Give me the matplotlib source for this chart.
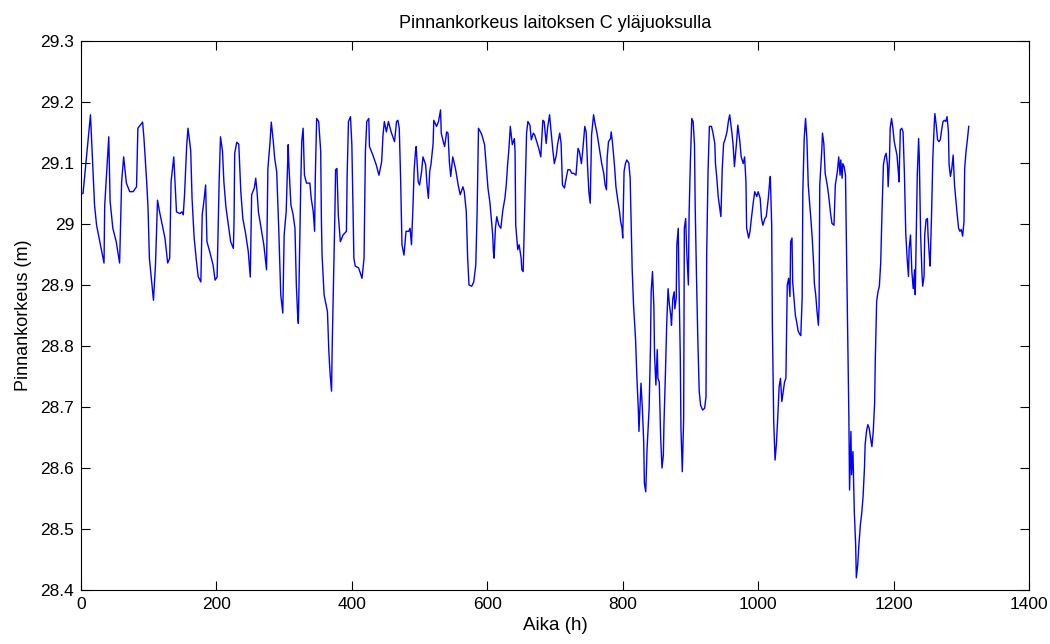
import matplotlib
matplotlib.use("Agg")
import matplotlib.pyplot as plt

time_h = [0, 3, 14, 20, 23, 34, 35, 41, 43, 47, 52, 57, 60, 63, 67, 72, 77, 82, 84, 91, 93, 97, 99, 101, 107, 110, 113, 116, 124, 128, 131, 133, 137, 141, 146, 149, 151, 153, 156, 158,
          162, 164, 167, 170, 173, 177, 179, 182, 184, 186, 190, 195, 198, 201, 204, 206, 209, 211, 214, 217, 221, 225, 226, 227, 230, 233, 236, 239, 243, 247, 250, 252, 256, 258, 260, 262, 266, 270, 274, 276, 279, 281, 284, 286, 289, 292, 295, 298, 300, 303, 306, 307, 310, 313, 316, 318, 320, 321, 323, 324.5, 326, 328,
          330, 333, 338, 340, 343, 345, 346, 348, 351, 354, 355, 356, 359, 364, 366, 368, 370, 371, 373, 375, 376, 378, 380, 383, 387, 392, 393, 395, 398, 400, 403, 405, 410, 415, 418, 420, 422, 425, 426, 431, 436, 440, 444, 446, 448, 451, 454, 458, 463, 466, 468, 470, 472, 474, 477, 480, 484, 486, 488,
          490, 492, 494, 495, 498, 500, 503, 505, 509, 511, 513, 515, 517, 520, 521, 525, 528, 531, 532, 535, 537, 540, 542, 544, 546, 549, 553, 557, 560, 564, 566, 569, 571, 573, 577, 580, 583, 585, 587, 590, 592, 596, 599, 601, 604, 606, 608, 609, 610, 612, 614, 617, 620, 623, 626, 628, 630, 632, 634, 637, 640, 641, 642, 645, 647, 650, 651, 653,
          654, 656, 658, 660, 663, 665, 668, 670, 673, 676, 679, 682, 684, 687, 689, 692, 694, 697, 699, 702, 704, 707, 709, 711, 714, 716, 719, 722, 725, 728, 731, 734, 736, 739, 741, 744, 746, 748, 750, 752, 754, 757, 759, 762, 764, 767, 769, 772, 774, 776, 777, 779, 782, 783, 785, 788, 790, 793, 795, 797, 799, 800, 802, 804, 806, 809, 811,
          813, 814, 816, 819, 821, 823, 824, 826, 827, 829, 831, 832, 834, 836, 839, 841, 842, 844, 846, 847, 849, 851, 852, 854, 856, 858, 860, 861, 863, 865, 867, 869, 871, 872, 874, 876, 877, 879, 880, 882, 883, 885, 886, 888, 890, 891, 893, 894, 895, 897, 898, 900, 902, 904, 906, 907, 909, 911, 913, 915, 918, 921, 923, 924, 926, 928, 931, 933, 936, 937, 939, 941, 943, 945, 947, 949, 951, 954, 956, 958,
          961, 963, 965, 968, 970, 973, 975, 978, 980, 982, 983, 986, 988, 990, 993, 995, 998, 1000, 1003, 1005, 1007, 1010, 1012, 1015, 1017, 1018, 1020, 1021, 1023, 1025, 1027, 1029, 1031, 1033, 1035, 1037, 1039, 1041, 1042, 1043, 1045, 1047, 1048, 1050, 1051, 1053, 1055, 1057, 1059, 1061, 1063, 1065, 1066, 1068, 1070, 1072, 1074, 1076, 1078, 1080, 1082, 1083, 1085, 1087, 1089, 1090, 1091, 1094, 1095, 1097, 1099, 1102, 1104, 1107, 1109, 1112, 1114, 1117, 1119, 1121, 1122, 1124, 1125, 1127, 1129,
          1130, 1132, 1134, 1135, 1137, 1138, 1140, 1142, 1144, 1145, 1147, 1149, 1151, 1153, 1155, 1157, 1158, 1160, 1162, 1164, 1166, 1168, 1170, 1172, 1173, 1175, 1177, 1179, 1181, 1183, 1185, 1187, 1189, 1191, 1192, 1194, 1195, 1197, 1199, 1201, 1203, 1205, 1207, 1208, 1210, 1212, 1214, 1216, 1218, 1220, 1222, 1223, 1225, 1227, 1229, 1231, 1232, 1234, 1235, 1237, 1238, 1240, 1242, 1243, 1245, 1246, 1248, 1250, 1251, 1253, 1254, 1256, 1258, 1260, 1261, 1263, 1265, 1267, 1269, 1271, 1273, 1275, 1277, 1279, 1281, 1282, 1284, 1286, 1288, 1290, 1292, 1294, 1296, 1298, 1300, 1302, 1304, 1305, 1307, 1309, 1311]

level_m = [29.050, 29.050, 29.179, 29.031, 28.998, 28.936, 29.030, 29.143, 29.037, 28.993, 28.971, 28.936, 29.069, 29.110, 29.067, 29.053, 29.053, 29.061, 29.157, 29.167, 29.140, 29.069, 29.026, 28.944, 28.875, 28.933, 29.039, 29.020, 28.977, 28.936, 28.944, 29.069, 29.110, 29.020, 29.017, 29.020, 29.015, 29.050, 29.127, 29.157,
           29.121, 29.042, 28.979, 28.944, 28.914, 28.905, 29.015, 29.042, 29.064, 28.971, 28.955, 28.933, 28.908, 28.913, 29.069, 29.143, 29.119, 29.069, 29.028, 29.004, 28.971, 28.960, 29.004, 29.116, 29.134, 29.131, 29.053, 29.009, 28.985, 28.955, 28.913, 29.048, 29.059, 29.075, 29.053, 29.020, 28.993, 28.966, 28.925, 29.091, 29.132, 29.167, 29.135, 29.108, 29.086, 28.993, 28.884, 28.854, 28.982, 29.020, 29.130, 29.097, 29.031, 29.017, 28.993, 28.900, 28.850, 28.837, 28.966, 29.064, 29.135, 29.157,
           29.080, 29.067, 29.067, 29.042, 29.020, 28.988, 29.075, 29.173, 29.168, 29.119, 29.009, 28.949, 28.884, 28.856, 28.791, 28.752, 28.726, 28.802, 28.913, 29.020, 29.089, 29.091, 29.015, 28.971, 28.982, 28.988, 29.078, 29.168, 29.176, 29.130, 28.944, 28.931, 28.928, 28.911, 28.944, 29.119, 29.168, 29.173, 29.127, 29.113, 29.097, 29.080, 29.102, 29.146, 29.168, 29.151, 29.168, 29.151, 29.135, 29.168, 29.170, 29.157, 29.075, 28.966, 28.949, 28.988, 28.988, 28.993, 28.966,
           29.020, 29.089, 29.119, 29.127, 29.069, 29.064, 29.086, 29.110, 29.097, 29.064, 29.042, 29.086, 29.099, 29.132, 29.170, 29.160, 29.168, 29.187, 29.149, 29.135, 29.127, 29.151, 29.149, 29.102, 29.078, 29.110, 29.091, 29.064, 29.048, 29.061, 29.053, 29.020, 28.944, 28.900, 28.898, 28.905, 28.933, 29.020, 29.157, 29.151, 29.146, 29.130, 29.086, 29.059, 29.034, 29.009, 28.982, 28.955, 28.944, 28.993, 29.012, 28.998, 28.993, 29.023, 29.042, 29.064, 29.097, 29.124, 29.160, 29.130, 29.140, 29.119, 28.998, 28.958, 28.966, 28.944, 28.925, 28.922,
           28.966, 29.050, 29.149, 29.168, 29.162, 29.138, 29.149, 29.146, 29.135, 29.124, 29.110, 29.170, 29.168, 29.132, 29.157, 29.179, 29.154, 29.119, 29.099, 29.113, 29.132, 29.149, 29.132, 29.064, 29.059, 29.072, 29.089, 29.089, 29.083, 29.083, 29.080, 29.124, 29.119, 29.099, 29.121, 29.160, 29.151, 29.097, 29.053, 29.034, 29.146, 29.179, 29.165, 29.149, 29.135, 29.113, 29.099, 29.083, 29.064, 29.056, 29.108, 29.135, 29.140, 29.151, 29.132, 29.094, 29.061, 29.037, 29.023, 29.004, 28.993, 28.977, 29.086, 29.099, 29.105, 29.100, 29.075,
           28.977, 28.925, 28.867, 28.810, 28.747, 28.698, 28.660, 28.714, 28.739, 28.698, 28.643, 28.575, 28.561, 28.632, 28.698, 28.799, 28.889, 28.922, 28.865, 28.785, 28.736, 28.794, 28.747, 28.741, 28.651, 28.600, 28.621, 28.676, 28.752, 28.837, 28.894, 28.867, 28.850, 28.834, 28.878, 28.889, 28.861, 28.878, 28.966, 28.993, 28.911, 28.785, 28.665, 28.594, 28.681, 28.993, 29.009, 28.971, 28.944, 28.900, 29.015, 29.105, 29.173, 29.168, 29.130, 29.031, 28.911, 28.807, 28.725, 28.703, 28.695, 28.698, 28.717, 28.949, 29.086, 29.160, 29.160, 29.151, 29.132, 29.099, 29.075, 29.045, 29.028, 29.012, 29.091, 29.132, 29.138, 29.151, 29.168, 29.179,
           29.152, 29.130, 29.094, 29.132, 29.162, 29.135, 29.110, 29.099, 29.110, 29.069, 28.993, 28.977, 28.988, 29.009, 29.037, 29.053, 29.045, 29.053, 29.042, 29.009, 28.998, 29.009, 29.012, 29.042, 29.069, 29.078, 28.998, 28.836, 28.676, 28.613, 28.640, 28.684, 28.733, 28.747, 28.709, 28.725, 28.741, 28.747, 28.828, 28.900, 28.911, 28.881, 28.971, 28.977, 28.905, 28.878, 28.850, 28.839, 28.825, 28.820, 28.817, 28.878, 29.053, 29.140, 29.173, 29.140, 29.064, 29.034, 29.007, 28.974, 28.933, 28.903, 28.884, 28.856, 28.834, 28.867, 29.064, 29.121, 29.149, 29.132, 29.083, 29.064, 29.048, 29.017, 29.001, 28.998, 29.064, 29.086, 29.110, 29.080, 29.105, 29.075, 29.099, 29.094, 29.080,
           28.996, 28.843, 28.682, 28.564, 28.660, 28.589, 28.627, 28.529, 28.474, 28.420, 28.441, 28.477, 28.507, 28.526, 28.554, 28.600, 28.638, 28.660, 28.671, 28.665, 28.649, 28.635, 28.660, 28.706, 28.777, 28.873, 28.889, 28.898, 28.936, 29.023, 29.097, 29.110, 29.116, 29.097, 29.061, 29.108, 29.157, 29.173, 29.157, 29.135, 29.124, 29.113, 29.086, 29.069, 29.154, 29.157, 29.151, 29.083, 28.985, 28.944, 28.914, 28.960, 28.982, 28.922, 28.894, 28.925, 28.884, 29.009, 29.080, 29.140, 29.108, 28.980, 28.917, 28.898, 28.914, 28.982, 29.007, 29.009, 28.980, 28.944, 28.931, 29.012, 29.108, 29.162, 29.181, 29.162, 29.138, 29.135, 29.138, 29.154, 29.168, 29.170, 29.168, 29.176, 29.151, 29.097, 29.078, 29.091, 29.113, 29.064, 29.039, 29.015, 28.993, 28.988, 28.991, 28.980, 29.004, 29.091, 29.119, 29.138, 29.160]

x_ticks = [0, 200, 400, 600, 800, 1000, 1200, 1400]
y_ticks = [28.4, 28.5, 28.6, 28.7, 28.8, 28.9, 29.0, 29.1, 29.2, 29.3]
y_tick_labels = ["28.4", "28.5", "28.6", "28.7", "28.8", "28.9", "29", "29.1", "29.2", "29.3"]

plt.rcParams['font.family'] = ['Liberation Sans', 'DejaVu Sans']

fig = plt.figure(figsize=(10.5, 6.44), dpi=100)
ax = fig.add_axes([81/1050, 1 - 590/644, (1029 - 81)/1050, (590 - 41)/644])
ax.plot(time_h, level_m, color=(0, 0, 1), linewidth=1.0)

ax.set_xlim(0, 1400)
ax.set_ylim(28.4, 29.3)
ax.set_xticks(x_ticks)
ax.set_xticklabels([str(v) for v in x_ticks])
ax.set_yticks(y_ticks)
ax.set_yticklabels(y_tick_labels)
ax.tick_params(direction='in', length=6.5, width=0.8, top=True, right=True, labelsize=12.5, pad=5)
for s in ax.spines.values():
    s.set_linewidth(0.8)
    s.set_color('black')

ax.set_title("Pinnankorkeus laitoksen C yläjuoksulla", fontsize=13, pad=9)
ax.set_xlabel("Aika (h)", fontsize=13.5, labelpad=4)
ax.set_ylabel("Pinnankorkeus (m)", fontsize=13, labelpad=6)

fig.savefig("out.png", dpi=100)
